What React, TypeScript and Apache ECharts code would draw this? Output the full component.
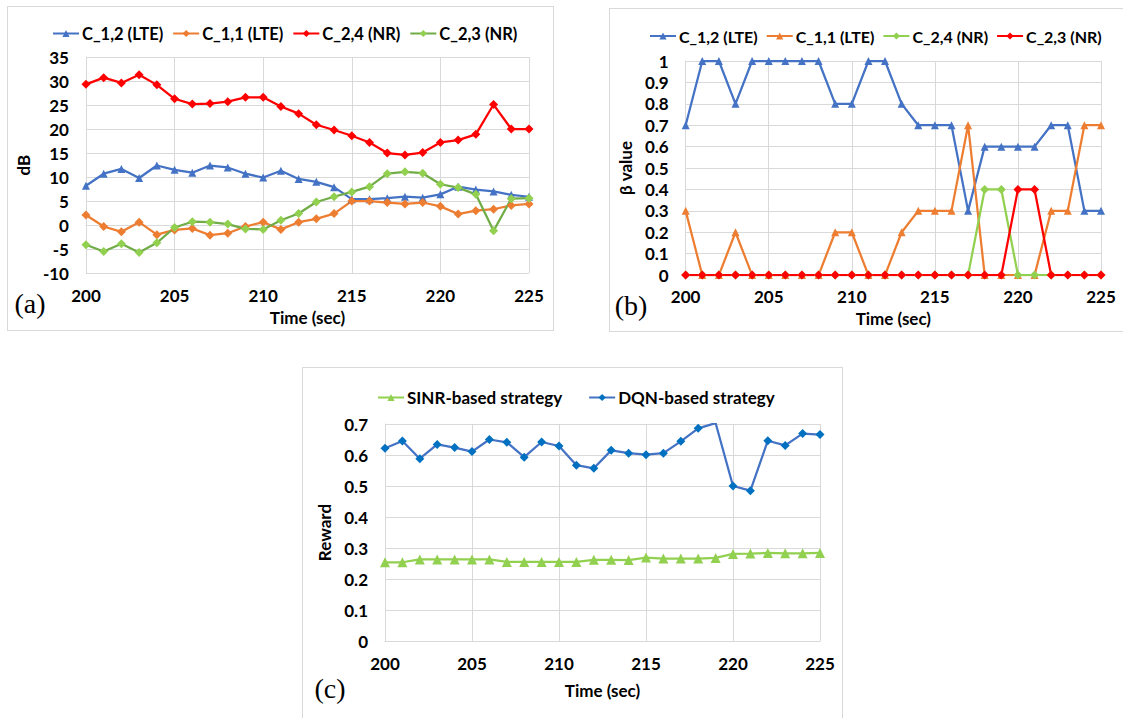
import React, { useEffect, useRef } from "react";
import * as echarts from "echarts";

const times = [200, 201, 202, 203, 204, 205, 206, 207, 208, 209, 210, 211, 212, 213, 214, 215, 216, 217, 218, 219, 220, 221, 222, 223, 224, 225];

// Panel (a): SINR in dB
const sinrC12 = [8.2, 10.7, 11.7, 9.8, 12.4, 11.5, 10.9, 12.4, 12.0, 10.7, 9.9, 11.3, 9.6, 9.0, 7.9, 5.4, 5.4, 5.6, 5.9, 5.7, 6.4, 8.0, 7.4, 7.0, 6.3, 5.9];
const sinrC11 = [2.1, -0.3, -1.4, 0.6, -2.0, -1.0, -0.7, -2.1, -1.7, -0.3, 0.6, -0.9, 0.6, 1.3, 2.4, 5.0, 5.0, 4.7, 4.4, 4.7, 3.9, 2.3, 3.0, 3.3, 4.1, 4.4];
const sinrC24 = [29.3, 30.7, 29.6, 31.3, 29.2, 26.3, 25.2, 25.3, 25.7, 26.6, 26.6, 24.7, 23.2, 20.9, 19.8, 18.6, 17.2, 15.0, 14.6, 15.1, 17.2, 17.7, 18.9, 25.1, 20.0, 20.0];
const sinrC23 = [-4.1, -5.5, -3.9, -5.7, -3.7, -0.5, 0.7, 0.6, 0.2, -0.8, -0.9, 1.0, 2.4, 4.8, 5.9, 6.9, 8.0, 10.7, 11.1, 10.8, 8.5, 7.8, 6.4, -1.2, 5.5, 5.6];

// Panel (b): beta values
const betaC12 = [0.7, 1, 1, 0.8, 1, 1, 1, 1, 1, 0.8, 0.8, 1, 1, 0.8, 0.7, 0.7, 0.7, 0.3, 0.6, 0.6, 0.6, 0.6, 0.7, 0.7, 0.3, 0.3];
const betaC11 = [0.3, 0, 0, 0.2, 0, 0, 0, 0, 0, 0.2, 0.2, 0, 0, 0.2, 0.3, 0.3, 0.3, 0.7, 0, 0, 0, 0, 0.3, 0.3, 0.7, 0.7];
const betaC24 = [0, 0, 0, 0, 0, 0, 0, 0, 0, 0, 0, 0, 0, 0, 0, 0, 0, 0, 0.4, 0.4, 0, 0, 0, 0, 0, 0];
const betaC23 = [0, 0, 0, 0, 0, 0, 0, 0, 0, 0, 0, 0, 0, 0, 0, 0, 0, 0, 0, 0, 0.4, 0.4, 0, 0, 0, 0];

// Panel (c): reward
const rewardSinr = [0.254, 0.254, 0.263, 0.263, 0.263, 0.263, 0.263, 0.255, 0.255, 0.255, 0.255, 0.255, 0.262, 0.262, 0.261, 0.269, 0.266, 0.266, 0.266, 0.268, 0.281, 0.282, 0.284, 0.283, 0.283, 0.284];
const rewardDqn = [0.622, 0.645, 0.588, 0.634, 0.624, 0.611, 0.65, 0.641, 0.593, 0.642, 0.629, 0.567, 0.557, 0.615, 0.606, 0.601, 0.606, 0.644, 0.686, 0.703, 0.5, 0.485, 0.646, 0.631, 0.669, 0.666];

const FONT = 'Lato, "Open Sans", sans-serif';
const GRID = "#d9d9d9";
const TFS = 17;

const pairs = (ys: number[]) => times.map((t, i) => [t, ys[i]]);

function lineSeries(name: string, ys: number[], lineColor: string, markColor: string, symbol: string, size: number) {
  return {
    name,
    type: "line",
    data: pairs(ys),
    symbol,
    symbolSize: size,
    showSymbol: true,
    lineStyle: { color: lineColor, width: 2.25 },
    itemStyle: { color: markColor },
    clip: true,
    z: 2,
  };
}

function buildOption(cfg: any) {
  return {
    animation: false,
    textStyle: { fontFamily: FONT },
    grid: cfg.grid,
    legend: {
      left: cfg.legendLeft,
      top: cfg.legendTop,
      itemWidth: 26,
      itemHeight: 9,
      itemGap: cfg.legendGap,
      textStyle: { fontFamily: FONT, fontWeight: "bold", fontSize: cfg.legendFs, color: "#000", padding: [0, 0, 0, -2] },
      data: cfg.series.map((s: any) => s.name),
    },
    xAxis: {
      type: "value",
      min: 200,
      max: 225,
      interval: 5,
      name: "Time (sec)",
      nameLocation: "middle",
      nameGap: cfg.xNameGap,
      nameTextStyle: { fontFamily: FONT, fontWeight: "bold", fontSize: TFS, color: "#000" },
      axisLine: { show: true, lineStyle: { color: GRID, width: 1 } },
      axisTick: { show: false },
      axisLabel: { margin: cfg.xLabelMargin, fontFamily: FONT, fontWeight: "bold", fontSize: TFS, color: "#000" },
      splitLine: { show: true, lineStyle: { color: GRID, width: 1 } },
    },
    yAxis: {
      type: "value",
      min: cfg.yMin,
      max: cfg.yMax,
      interval: cfg.yInterval,
      name: cfg.yName,
      nameLocation: "middle",
      nameGap: cfg.yNameGap,
      nameTextStyle: { fontFamily: FONT, fontWeight: "bold", fontSize: TFS, color: "#000" },
      axisLine: { show: true, lineStyle: { color: GRID, width: 1 } },
      axisTick: { show: false },
      axisLabel: { margin: 17, fontFamily: FONT, fontWeight: "bold", fontSize: TFS, color: "#000" },
      splitLine: { show: true, lineStyle: { color: GRID, width: 1 } },
    },
    graphic: [
      {
        type: "text",
        x: cfg.tag.x,
        y: cfg.tag.y,
        style: {
          text: cfg.tag.text,
          fontFamily: '"Liberation Serif", "Times New Roman", serif',
          fontSize: 28,
          fill: "#000",
          textAlign: "center",
          textVerticalAlign: "middle",
        },
      },
    ],
    series: cfg.series,
  };
}

const optionA = buildOption({
  grid: { left: 67, top: 51, right: 25, bottom: 55 },
  legendLeft: 40,
  legendTop: 14,
  legendGap: 9,
  legendFs: 16.5,
  xNameGap: 32,
  xLabelMargin: 14,
  yMin: -10,
  yMax: 35,
  yInterval: 5,
  yName: "dB",
  yNameGap: 42,
  tag: { text: "(a)", x: 23, y: 297 },
  series: [
    lineSeries("C_1,2 (LTE)", sinrC12, "#4472C4", "#4472C4", "triangle", 8),
    lineSeries("C_1,1 (LTE)", sinrC11, "#ED7D31", "#ED7D31", "diamond", 9),
    lineSeries("C_2,4 (NR)", sinrC24, "#FF0000", "#FF0000", "diamond", 9),
    lineSeries("C_2,3 (NR)", sinrC23, "#70AD47", "#92D050", "diamond", 9),
  ],
});

const optionB = buildOption({
  grid: { left: 65, top: 53, right: 28, bottom: 56 },
  legendLeft: 35,
  legendTop: 15,
  legendGap: 8,
  legendFs: 16,
  xNameGap: 33,
  xLabelMargin: 13,
  yMin: 0,
  yMax: 1,
  yInterval: 0.1,
  yName: "β value",
  yNameGap: 41,
  tag: { text: "(b)", x: 22, y: 297 },
  series: [
    lineSeries("C_1,2 (LTE)", betaC12, "#4472C4", "#4472C4", "triangle", 8),
    lineSeries("C_1,1 (LTE)", betaC11, "#ED7D31", "#ED7D31", "triangle", 8),
    lineSeries("C_2,4 (NR)", betaC24, "#92D050", "#92D050", "diamond", 9),
    lineSeries("C_2,3 (NR)", betaC23, "#FF0000", "#FF0000", "diamond", 9),
  ],
});

const optionC = buildOption({
  grid: { left: 83, top: 57, right: 23, bottom: 86 },
  legendLeft: 70,
  legendTop: 17,
  legendGap: 26,
  legendFs: 17,
  xNameGap: 41,
  xLabelMargin: 14,
  yMin: 0,
  yMax: 0.7,
  yInterval: 0.1,
  yName: "Reward",
  yNameGap: 49,
  tag: { text: "(c)", x: 28, y: 321 },
  series: [
    lineSeries("SINR-based strategy", rewardSinr, "#92D050", "#92D050", "triangle", 10),
    lineSeries("DQN-based strategy", rewardDqn, "#4472C4", "#0070C0", "diamond", 9),
  ],
});

function Panel(props: { left: number; top: number; width: number; height: number; option: any; border: any }) {
  const ref = useRef<HTMLDivElement>(null);
  useEffect(() => {
    if (!ref.current) return;
    const chart = echarts.init(ref.current, undefined, { renderer: "svg" });
    chart.setOption(props.option);
    return () => chart.dispose();
  }, []);
  return (
    <div
      style={{
        position: "absolute",
        left: props.left,
        top: props.top,
        width: props.width,
        height: props.height,
        boxSizing: "border-box",
        ...props.border,
      }}
    >
      <div ref={ref} style={{ position: "absolute", left: -1, top: -1, width: props.width, height: props.height }} />
    </div>
  );
}

export default function App() {
  const b = "1px solid #d9d9d9";
  return (
    <div style={{ position: "fixed", left: 0, top: 0, width: 1123, height: 718, background: "#fff", overflow: "hidden" }}>
      <Panel left={7} top={6} width={547} height={325} option={optionA} border={{ border: b }} />
      <Panel left={609} top={8} width={520} height={324} option={optionB} border={{ borderLeft: b, borderTop: b, borderBottom: b }} />
      <Panel left={302} top={367} width={541} height={360} option={optionC} border={{ borderLeft: b, borderTop: b, borderRight: b }} />
    </div>
  );
}
